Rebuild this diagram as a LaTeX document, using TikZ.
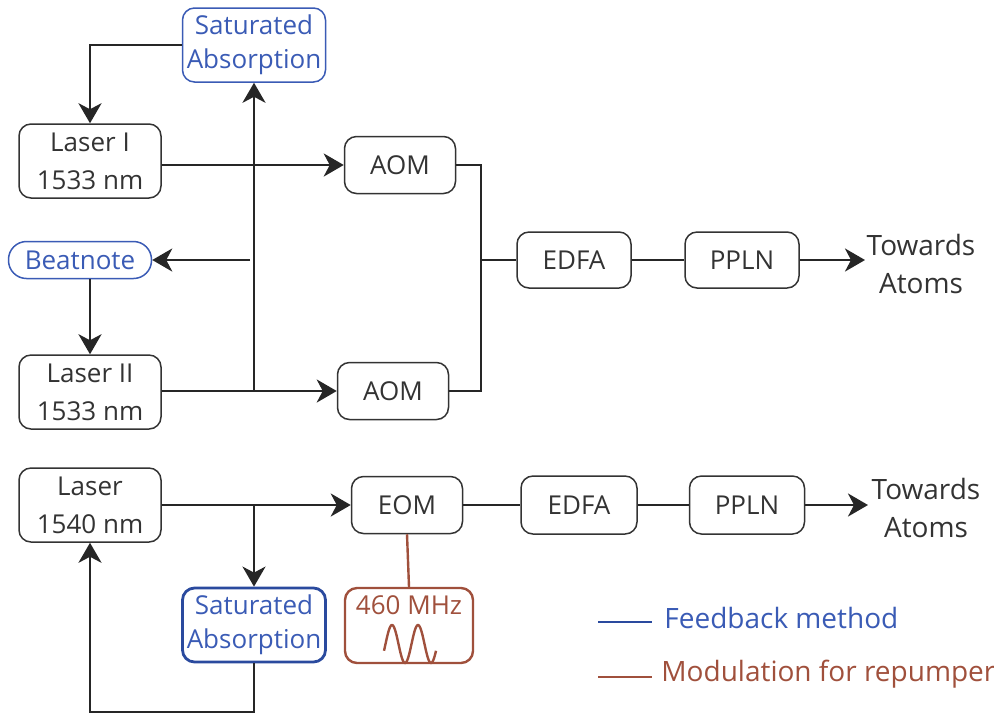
\documentclass[tikz,border=0pt]{standalone}
\usepackage{fontspec}
\setmainfont{Open Sans}
\usetikzlibrary{arrows.meta}
\definecolor{txt}{HTML}{333333}
\definecolor{fbblue}{HTML}{3A5BB5}
\definecolor{fbdark}{HTML}{2A4A9E}
\definecolor{modbrown}{HTML}{A0503C}
\tikzset{
  box/.style={draw=txt, line width=0.75pt, rounded corners=6pt, align=center, inner sep=0pt, text=txt, font=\fontsize{13}{19}\selectfont},
  bluebox/.style={box, draw=fbblue, text=fbblue, font=\fontsize{13}{17}\selectfont},
  conn/.style={draw=black!85, line width=1.4pt},
  arr/.style={conn, -{Stealth[length=10pt,width=11.5pt,inset=3pt]}},
  lbl/.style={align=center, inner sep=0pt, text=txt, font=\fontsize{14}{19}\selectfont},
}
\begin{document}
\begin{tikzpicture}[x=0.5pt,y=-0.5pt]
\useasboundingbox (0,0) rectangle (994,714);
% top section
\node[bluebox, minimum width=71.5pt, minimum height=37pt] (sa1) at (254,45) {Saturated\\Absorption};
\node[box, minimum width=71pt, minimum height=37pt] (l1) at (90,161) {Laser I\\1533 nm};
\node[box, minimum width=55.5pt, minimum height=28.5pt] (aom1) at (400,165) {AOM};
\node[bluebox, rounded corners=9pt, minimum width=71.5pt, minimum height=18.5pt] (beat) at (80,260) {Beatnote};
\node[box, minimum width=71pt, minimum height=37pt] (l2) at (90,392) {Laser II\\1533 nm};
\node[box, minimum width=55.5pt, minimum height=28.5pt] (aom2) at (393,391) {AOM};
\node[box, minimum width=57pt, minimum height=28pt] (edfa1) at (574,260) {EDFA};
\node[box, minimum width=57pt, minimum height=28pt] (ppln1) at (742,260) {PPLN};
\node[lbl] (ta1) at (921,264) {Towards\\Atoms};
\coordinate (ta1in) at (865,260);
% top connectors
\draw[arr] (sa1.west) -| (l1.north);
\coordinate (l1out) at (l1.east |- aom1.west);
\draw[arr] (l1out) -- (aom1.west);
\coordinate (l2out) at (l2.east |- aom2.west);
\draw[arr] (l2out) -- (aom2.west);
\coordinate (vbot) at (sa1.south |- aom2.west);
\draw[arr] (vbot) -- (sa1.south);
\coordinate (bstart) at (250,260);
\draw[arr] (bstart) -- (beat.east);
\coordinate (bdown) at (l2.north |- beat.south);
\draw[arr] (bdown) -- (l2.north);
\coordinate (jn) at (481,260);
\draw[conn] (aom1.east) -| (jn) |- (aom2.east);
\draw[conn] (jn) -- (edfa1.west);
\draw[conn] (edfa1.east) -- (ppln1.west);
\draw[arr] (ppln1.east) -- (ta1in);
% bottom section
\node[box, minimum width=71pt, minimum height=37pt] (l3) at (90,505) {Laser\\1540 nm};
\node[box, minimum width=55.5pt, minimum height=28.5pt] (eom) at (407,505) {EOM};
\node[box, minimum width=58pt, minimum height=29pt] (edfa2) at (579,505) {EDFA};
\node[box, minimum width=57.5pt, minimum height=29pt] (ppln2) at (747,505) {PPLN};
\node[lbl] (ta2) at (926,508) {Towards\\Atoms};
\coordinate (ta2in) at (868,505);
\node[bluebox, draw=fbdark, line width=1.4pt, minimum width=71.5pt, minimum height=37pt] (sa2) at (254,625) {Saturated\\Absorption};
\node[draw=modbrown, line width=1.2pt, rounded corners=6pt, minimum width=64pt, minimum height=37.5pt, inner sep=0pt] (mhz) at (409,625.5) {};
\node[text=modbrown, inner sep=0pt, font=\fontsize{13}{19}\selectfont] (mhzt) at (409,605) {460 MHz};
\draw[modbrown, line width=1.2pt, domain=384:436, samples=80, smooth] plot (\x, {644-19*sin(13.846*(\x-385.5))});
\draw[arr] (l3.east) -- (eom.west);
\coordinate (br) at (sa2.north |- l3.east);
\draw[arr] (br) -- (sa2.north);
\coordinate (fb) at (254,712);
\draw[arr] (sa2.south) -- (fb) -| (l3.south);
\draw[modbrown, line width=1.2pt] (eom.south) -- (mhz.north);
\draw[conn] (eom.east) -- (edfa2.west);
\draw[conn] (edfa2.east) -- (ppln2.west);
\draw[arr] (ppln2.east) -- (ta2in);
% legend
\coordinate (lg1a) at (598,622);
\coordinate (lg1b) at (652,622);
\draw[fbdark, line width=1.3pt] (lg1a) -- (lg1b);
\node[anchor=west, inner sep=0pt, text=fbblue, font=\fontsize{14}{19}\selectfont] (lgt1) at (664,618) {Feedback method};
\coordinate (lg2a) at (598,677);
\coordinate (lg2b) at (652,677);
\draw[modbrown, line width=1.3pt] (lg2a) -- (lg2b);
\node[anchor=west, inner sep=0pt, text=modbrown, font=\fontsize{14}{19}\selectfont] (lgt2) at (661,674) {Modulation for repumper};
\end{tikzpicture}
\end{document}
